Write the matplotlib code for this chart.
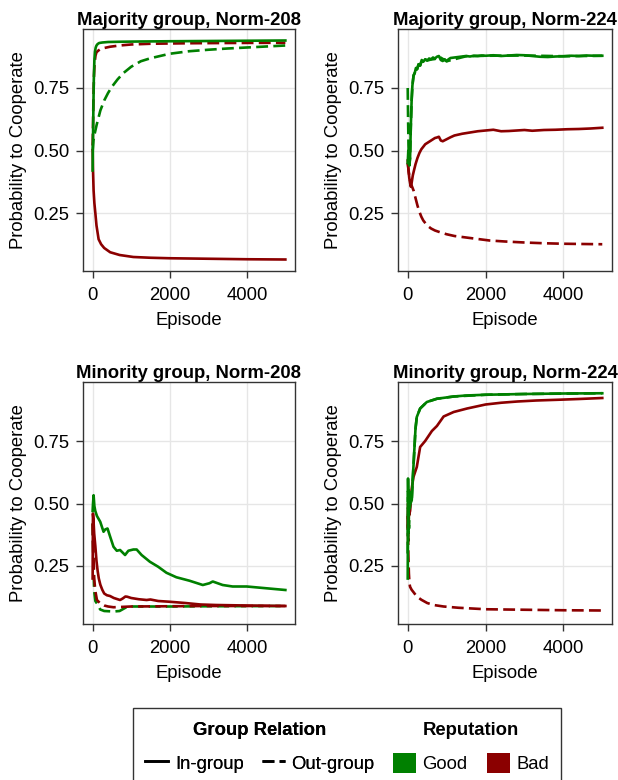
import matplotlib
matplotlib.use("Agg")
import matplotlib.pyplot as plt
from matplotlib.lines import Line2D
from matplotlib.patches import Patch, Rectangle

plt.rcParams['font.family'] = ['Liberation Sans', 'DejaVu Sans']

GOOD = "#008000"
BAD = "#8B0000"

# ---------------- data ----------------
# Majority group, Norm-208
maj208_in_good_x = [0, 10, 20, 30, 45, 60, 80, 100, 130, 170, 250, 400, 700, 1200, 2000, 3000, 4000, 5000]
maj208_in_good_y = [0.42, 0.55, 0.68, 0.78, 0.86, 0.895, 0.912, 0.92, 0.926, 0.93, 0.932, 0.934, 0.935, 0.936, 0.937, 0.938, 0.939, 0.94]
maj208_out_good_x = [0, 20, 50, 100, 150, 200, 300, 400, 500, 650, 800, 1000, 1250, 1500, 2000, 2500, 3000, 3500, 4000, 4500, 5000]
maj208_out_good_y = [0.5, 0.54, 0.565, 0.6, 0.63, 0.66, 0.7, 0.73, 0.755, 0.785, 0.81, 0.835, 0.857, 0.869, 0.887, 0.897, 0.903, 0.908, 0.912, 0.916, 0.92]
maj208_in_bad_x = [0, 10, 25, 45, 70, 100, 155, 220, 300, 455, 700, 1056, 1500, 2000, 3000, 4000, 5000]
maj208_in_bad_y = [0.5, 0.42, 0.34, 0.29, 0.25, 0.2, 0.145, 0.125, 0.11, 0.093, 0.082, 0.074, 0.071, 0.069, 0.067, 0.065, 0.064]
maj208_out_bad_x = [0, 10, 20, 35, 50, 75, 100, 150, 200, 300, 450, 700, 1000, 1500, 2500, 3500, 5000]
maj208_out_bad_y = [0.52, 0.6, 0.7, 0.8, 0.85, 0.88, 0.893, 0.9, 0.905, 0.91, 0.915, 0.92, 0.924, 0.927, 0.929, 0.93, 0.931]

# Majority group, Norm-224
maj224_in_good_x = [0, 15, 30, 45, 60, 80, 100, 120, 150, 180, 210, 240, 280, 320, 360, 400, 450, 500, 550, 600, 650,
                    700, 750, 800, 850, 900, 950, 1000, 1050, 1100, 1200, 1300, 1400, 1500, 1600, 1700, 1800, 1900,
                    2000, 2200, 2400, 2600, 2800, 3000, 3200, 3400, 3600, 3800, 4000, 4200, 4400, 4600, 4800, 5000]
maj224_in_good_y = [0.45, 0.5, 0.46, 0.44, 0.47, 0.6, 0.7, 0.76, 0.8, 0.81, 0.83, 0.825, 0.845, 0.84, 0.862, 0.855, 0.865,
                    0.86, 0.868, 0.865, 0.872, 0.868, 0.875, 0.878, 0.862, 0.858, 0.865, 0.857, 0.865, 0.87, 0.872,
                    0.874, 0.876, 0.878, 0.876, 0.879, 0.878, 0.88, 0.879, 0.881, 0.878, 0.88, 0.882, 0.881, 0.878,
                    0.875, 0.874, 0.876, 0.877, 0.879, 0.878, 0.88, 0.879, 0.879]
maj224_out_good_x = [0, 10, 20, 30, 45, 60, 80, 100, 120, 150, 180, 210, 240, 280, 320, 360, 400, 450, 500, 600, 700,
                     800, 1000, 1500, 2000, 3000, 4000, 5000]
maj224_out_good_y = [0.75, 0.62, 0.52, 0.47, 0.45, 0.47, 0.6, 0.7, 0.76, 0.8, 0.81, 0.83, 0.825, 0.845, 0.84, 0.86,
                     0.855, 0.864, 0.86, 0.864, 0.866, 0.876, 0.857, 0.877, 0.879, 0.88, 0.877, 0.879]
maj224_in_bad_x = [0, 20, 40, 60, 80, 100, 130, 160, 200, 250, 300, 350, 400, 450, 500, 550, 600, 650, 700, 750, 800,
                   850, 900, 1000, 1100, 1200, 1400, 1600, 1800, 2000, 2200, 2400, 2600, 2800, 3000, 3200, 3500,
                   3800, 4100, 4400, 4700, 5000]
maj224_in_bad_y = [0.46, 0.42, 0.39, 0.37, 0.355, 0.37, 0.4, 0.42, 0.445, 0.47, 0.49, 0.505, 0.515, 0.525, 0.53, 0.535,
                   0.54, 0.545, 0.55, 0.552, 0.555, 0.54, 0.537, 0.545, 0.553, 0.56, 0.567, 0.572, 0.577, 0.58,
                   0.583, 0.577, 0.578, 0.58, 0.582, 0.579, 0.582, 0.583, 0.585, 0.586, 0.588, 0.591]
maj224_out_bad_x = [0, 30, 60, 100, 150, 200, 250, 300, 350, 400, 500, 600, 700, 850, 1000, 1200, 1500, 1800, 2100,
                    2500, 3000, 3500, 4000, 4500, 5000]
maj224_out_bad_y = [0.45, 0.41, 0.38, 0.36, 0.34, 0.31, 0.28, 0.255, 0.235, 0.22, 0.2, 0.188, 0.18, 0.172, 0.165,
                    0.158, 0.152, 0.146, 0.14, 0.136, 0.132, 0.129, 0.127, 0.126, 0.125]

# Minority group, Norm-208
min208_in_good_x = [0, 10, 25, 45, 69, 112, 197, 240, 283, 326, 386, 455, 541, 627, 712, 841, 927, 1056, 1142, 1270,
                    1485, 1700, 1914, 2172, 2515, 2858, 3030, 3116, 3373, 3631, 4000, 4500, 5000]
min208_in_good_y = [0.47, 0.5, 0.533, 0.49, 0.47, 0.45, 0.427, 0.407, 0.387, 0.396, 0.4, 0.367, 0.327, 0.311, 0.314,
                    0.294, 0.311, 0.316, 0.316, 0.294, 0.267, 0.247, 0.223, 0.205, 0.191, 0.174, 0.181, 0.188, 0.174,
                    0.168, 0.168, 0.161, 0.154]
min208_in_bad_x = [0, 8, 20, 40, 70, 100, 130, 160, 200, 250, 300, 370, 450, 550, 650, 712, 780, 850, 900, 1000, 1200,
                   1400, 1500, 1700, 2000, 2400, 2800, 3200, 3600, 4000, 4500, 5000]
min208_in_bad_y = [0.2, 0.46, 0.44, 0.38, 0.33, 0.27, 0.23, 0.2, 0.175, 0.155, 0.14, 0.133, 0.13, 0.122, 0.117, 0.114,
                   0.12, 0.128, 0.127, 0.122, 0.117, 0.114, 0.116, 0.11, 0.107, 0.102, 0.096, 0.094, 0.093, 0.092,
                   0.091, 0.09]
min208_out_bad_x = [0, 20, 40, 70, 112, 200, 300, 400, 541, 700, 1000, 2000, 3000, 5000]
min208_out_bad_y = [0.42, 0.3, 0.2, 0.15, 0.114, 0.1, 0.092, 0.088, 0.085, 0.086, 0.088, 0.089, 0.09, 0.09]
min208_out_good_x = [0, 20, 40, 70, 112, 197, 300, 541, 700, 884, 1000, 2000, 3000, 5000]
min208_out_good_y = [0.42, 0.25, 0.15, 0.11, 0.1, 0.076, 0.07, 0.068, 0.07, 0.086, 0.088, 0.088, 0.089, 0.09]

# Minority group, Norm-224
min224_in_good_x = [0, 8, 20, 35, 50, 70, 103, 130, 160, 200, 233, 319, 491, 750, 1181, 1500, 2000, 3000, 4000, 5000]
min224_in_good_y = [0.2, 0.6, 0.45, 0.55, 0.48, 0.5, 0.513, 0.6, 0.686, 0.8, 0.846, 0.88, 0.906, 0.919, 0.928, 0.932,
                    0.935, 0.938, 0.94, 0.941]
min224_in_bad_x = [0, 10, 30, 60, 103, 147, 233, 319, 448, 621, 750, 922, 1181, 1526, 2000, 2400, 2819, 3300, 3871,
                   4400, 5000]
min224_in_bad_y = [0.4, 0.5, 0.45, 0.47, 0.56, 0.606, 0.646, 0.726, 0.75, 0.79, 0.81, 0.848, 0.866, 0.88, 0.896,
                   0.903, 0.908, 0.912, 0.915, 0.918, 0.922]
min224_out_good_x = [0, 8, 16, 24, 32, 45, 60, 103, 130, 160, 200, 233, 319, 491, 750, 1181, 2000, 3000, 5000]
min224_out_good_y = [0.3, 0.55, 0.35, 0.5, 0.4, 0.45, 0.5, 0.513, 0.6, 0.686, 0.8, 0.846, 0.88, 0.906, 0.919, 0.928,
                     0.935, 0.938, 0.941]
min224_out_bad_x = [0, 15, 30, 45, 60, 100, 150, 233, 350, 500, 664, 922, 1300, 2000, 3000, 4000, 5000]
min224_out_bad_y = [0.45, 0.3, 0.22, 0.18, 0.167, 0.155, 0.145, 0.128, 0.115, 0.102, 0.094, 0.088, 0.083, 0.077,
                    0.075, 0.073, 0.072]

panels = [
    ("Majority group, Norm-208",
     (maj208_out_good_x, maj208_out_good_y), (maj208_out_bad_x, maj208_out_bad_y),
     (maj208_in_good_x, maj208_in_good_y), (maj208_in_bad_x, maj208_in_bad_y)),
    ("Majority group, Norm-224",
     (maj224_out_good_x, maj224_out_good_y), (maj224_out_bad_x, maj224_out_bad_y),
     (maj224_in_good_x, maj224_in_good_y), (maj224_in_bad_x, maj224_in_bad_y)),
    ("Minority group, Norm-208",
     (min208_out_good_x, min208_out_good_y), (min208_out_bad_x, min208_out_bad_y),
     (min208_in_good_x, min208_in_good_y), (min208_in_bad_x, min208_in_bad_y)),
    ("Minority group, Norm-224",
     (min224_out_good_x, min224_out_good_y), (min224_out_bad_x, min224_out_bad_y),
     (min224_in_good_x, min224_in_good_y), (min224_in_bad_x, min224_in_bad_y)),
]

xticks = [0, 2000, 4000]
yticks = [0.25, 0.50, 0.75]
ytick_labels = ["0.25", "0.50", "0.75"]

W, H = 618, 780
fig = plt.figure(figsize=(W / 100, H / 100), dpi=100)

boxes = [(83, 295, 29, 271), (398, 612, 29, 271), (83, 295, 382, 624), (398, 612, 382, 624)]

LW = 1.9
DASH = (0, (4.5, 2.0))
FS = 13.3
SPINE = "#333333"
GRID = "#e6e6e6"

for (l, r, t, b), (title, og, ob, ig, ib) in zip(boxes, panels):
    ax = fig.add_axes([l / W, 1 - b / H, (r - l) / W, (b - t) / H])
    ax.plot(*og, color=GOOD, lw=LW, ls=DASH)
    ax.plot(*ob, color=BAD, lw=LW, ls=DASH)
    ax.plot(*ib, color=BAD, lw=LW)
    ax.plot(*ig, color=GOOD, lw=LW)
    ax.set_xlim(-250, 5250)
    ax.set_ylim(0.018, 0.986)
    ax.set_xticks(xticks)
    ax.set_yticks(yticks)
    ax.set_yticklabels(ytick_labels)
    for s in ax.spines.values():
        s.set_color(SPINE)
        s.set_linewidth(1.0)
    ax.tick_params(axis='both', labelsize=FS, length=4.7, width=1, color=SPINE, labelcolor="black")
    ax.tick_params(axis='x', pad=6.6)
    ax.tick_params(axis='y', pad=5.2)
    ax.grid(True, color=GRID, lw=1)
    ax.set_axisbelow(True)
    ax.set_title(title, fontsize=FS, fontweight='bold', pad=3.1)
    ax.set_xlabel("Episode", fontsize=FS, labelpad=5.8)
    ax.set_ylabel("Probability to Cooperate", fontsize=FS, labelpad=4.5)

# legend frame
frame = Rectangle((133 / W, -0.05), (561 - 133) / W, 0.05 + 1 - 708 / H, transform=fig.transFigure,
                  fill=False, edgecolor=SPINE, lw=1.0, clip_on=False)
fig.add_artist(frame)

rel_handles = [Line2D([], [], color="black", lw=LW), Line2D([], [], color="black", lw=LW, ls=DASH)]
rel_labels = ["In-group", "Out-group"]
rep_handles = [Patch(facecolor=GOOD, edgecolor="none"), Patch(facecolor=BAD, edgecolor="none")]
rep_labels = ["Good", "Bad"]

leg1 = fig.legend(rel_handles, rel_labels, ncol=2, title="Group Relation", frameon=False,
                  fontsize=FS, title_fontproperties={'weight': 'bold', 'size': FS},
                  loc="upper center", bbox_to_anchor=(260 / W, 1 - 713 / H),
                  handlelength=1.25, handleheight=1.25, handletextpad=0.35, columnspacing=1.0,
                  labelspacing=0.75, borderpad=0)
leg2 = fig.legend(rep_handles, rep_labels, ncol=2, title="Reputation", frameon=False,
                  fontsize=FS, title_fontproperties={'weight': 'bold', 'size': FS},
                  loc="upper center", bbox_to_anchor=(471 / W, 1 - 713 / H),
                  handlelength=1.25, handleheight=1.25, handletextpad=0.35, columnspacing=1.05,
                  labelspacing=0.75, borderpad=0)
fig.add_artist(leg1)

fig.savefig("out.png", dpi=100)
